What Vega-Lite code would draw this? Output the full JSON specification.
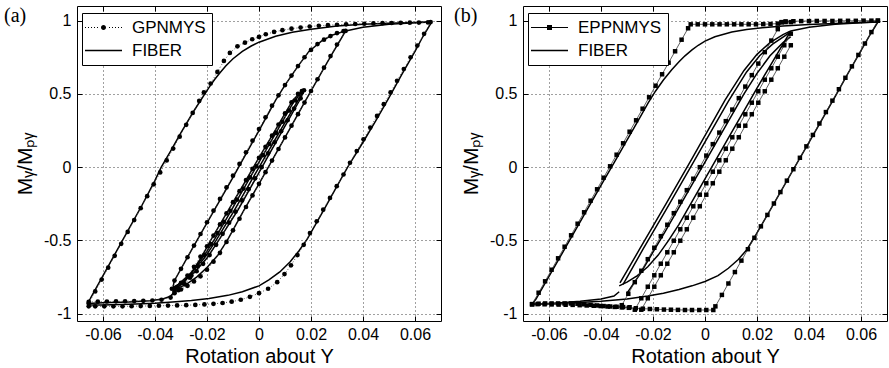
{
  "$schema": "https://vega.github.io/schema/vega-lite/v6.json",
  "padding": {"left": 3, "top": 5, "right": 0, "bottom": 0},
  "bounds": "flush",
  "spacing": 82,
  "resolve": {"scale": {"shape": "independent"}, "legend": {"shape": "independent"}},
  "config": {
    "view": {"stroke": "black", "strokeWidth": 1},
    "font": "Liberation Sans",
    "axis": {
      "labelFont": "Liberation Sans", "labelFontSize": 16, "labelColor": "black",
      "titleFont": "Liberation Sans", "titleFontSize": 20, "titleFontWeight": "normal", "titleColor": "black",
      "domain": false, "gridColor": "black", "gridDash": [1, 3], "gridOpacity": 0.75, "tickColor": "black", "tickWidth": 1
    },
    "legend": {
      "title": null, "orient": "none", "legendX": 5, "legendY": 7,
      "strokeColor": "black", "fillColor": "white", "padding": 6,
      "symbolSize": 100, "labelFont": "Liberation Sans", "labelFontSize": 17, "labelColor": "black", "labelOffset": 27, "rowPadding": 5
    }
  },
  "datasets": {
    "legA": [{"s": "GPNMYS"}, {"s": "FIBER"}],
    "legB": [{"s": "EPPNMYS"}, {"s": "FIBER"}],
    "aF": [
      {"g":1,"x":-0.066,"y":-0.93},{"g":1,"x":-0.065,"y":-0.9},{"g":1,"x":-0.06,"y":-0.74},{"g":1,"x":-0.055,"y":-0.58},{"g":1,"x":-0.05,"y":-0.42},{"g":1,"x":-0.045,"y":-0.26},{"g":1,"x":-0.04,"y":-0.09},{"g":1,"x":-0.0376,"y":0},{"g":1,"x":-0.034,"y":0.11},{"g":1,"x":-0.03,"y":0.235},{"g":1,"x":-0.025,"y":0.385},{"g":1,"x":-0.0212,"y":0.49},{"g":1,"x":-0.019,"y":0.55},{"g":1,"x":-0.017,"y":0.6},{"g":1,"x":-0.015,"y":0.645},{"g":1,"x":-0.0128,"y":0.69},{"g":1,"x":-0.01,"y":0.74},{"g":1,"x":-0.0064,"y":0.79},{"g":1,"x":-0.003,"y":0.827},{"g":1,"x":0,"y":0.853},{"g":1,"x":0.0064,"y":0.893},{"g":1,"x":0.0128,"y":0.921},{"g":1,"x":0.02,"y":0.942},{"g":1,"x":0.03,"y":0.963},{"g":1,"x":0.04,"y":0.975},{"g":1,"x":0.05,"y":0.982},{"g":1,"x":0.0664,"y":0.99},
      {"g":2,"x":0.0664,"y":0.99},{"g":2,"x":0.063,"y":0.89},{"g":2,"x":0.06,"y":0.79},{"g":2,"x":0.055,"y":0.635},{"g":2,"x":0.05,"y":0.475},{"g":2,"x":0.045,"y":0.32},{"g":2,"x":0.04,"y":0.17},{"g":2,"x":0.0341,"y":0},{"g":2,"x":0.03,"y":-0.13},{"g":2,"x":0.025,"y":-0.29},{"g":2,"x":0.0186,"y":-0.49},{"g":2,"x":0.0154,"y":-0.57},{"g":2,"x":0.012,"y":-0.645},{"g":2,"x":0.008,"y":-0.715},{"g":2,"x":0.0038,"y":-0.77},{"g":2,"x":0,"y":-0.81},{"g":2,"x":-0.0064,"y":-0.85},{"g":2,"x":-0.012,"y":-0.875},{"g":2,"x":-0.0192,"y":-0.896},{"g":2,"x":-0.026,"y":-0.91},{"g":2,"x":-0.032,"y":-0.919},{"g":2,"x":-0.04,"y":-0.928},{"g":2,"x":-0.05,"y":-0.935},{"g":2,"x":-0.06,"y":-0.94},{"g":2,"x":-0.066,"y":-0.94},
      {"g":3,"x":-0.066,"y":-0.93},{"g":3,"x":-0.06,"y":-0.925},{"g":3,"x":-0.05,"y":-0.92},{"g":3,"x":-0.042,"y":-0.912},{"g":3,"x":-0.037,"y":-0.9},{"g":3,"x":-0.034,"y":-0.88},{"g":3,"x":-0.033,"y":-0.86},
      {"g":4,"x":-0.033,"y":-0.84},{"g":4,"x":-0.03,"y":-0.8},{"g":4,"x":-0.026,"y":-0.72},{"g":4,"x":-0.022,"y":-0.61},{"g":4,"x":-0.0186,"y":-0.5},{"g":4,"x":-0.012,"y":-0.3},{"g":4,"x":-0.006,"y":-0.12},{"g":4,"x":0,"y":0.065},{"g":4,"x":0.006,"y":0.245},{"g":4,"x":0.013,"y":0.457},{"g":4,"x":0.0155,"y":0.5},{"g":4,"x":0.0173,"y":0.525},
      {"g":5,"x":0.0173,"y":0.525},{"g":5,"x":0.016,"y":0.47},{"g":5,"x":0.01,"y":0.28},{"g":5,"x":0.004,"y":0.09},{"g":5,"x":-0.002,"y":-0.1},{"g":5,"x":-0.008,"y":-0.29},{"g":5,"x":-0.0155,"y":-0.5},{"g":5,"x":-0.02,"y":-0.62},{"g":5,"x":-0.025,"y":-0.72},{"g":5,"x":-0.03,"y":-0.79},{"g":5,"x":-0.033,"y":-0.82},
      {"g":6,"x":-0.033,"y":-0.82},{"g":6,"x":-0.0327,"y":-0.78},{"g":6,"x":-0.025,"y":-0.535},{"g":6,"x":-0.02,"y":-0.38},{"g":6,"x":-0.015,"y":-0.225},{"g":6,"x":-0.01,"y":-0.07},{"g":6,"x":-0.005,"y":0.09},{"g":6,"x":0,"y":0.25},{"g":6,"x":0.0064,"y":0.457},{"g":6,"x":0.01,"y":0.56},{"g":6,"x":0.015,"y":0.69},{"g":6,"x":0.0192,"y":0.79},{"g":6,"x":0.024,"y":0.86},{"g":6,"x":0.028,"y":0.9},{"g":6,"x":0.0333,"y":0.93},
      {"g":7,"x":0.0333,"y":0.93},{"g":7,"x":0.032,"y":0.89},{"g":7,"x":0.028,"y":0.77},{"g":7,"x":0.024,"y":0.645},{"g":7,"x":0.018,"y":0.457},{"g":7,"x":0.012,"y":0.267},{"g":7,"x":0.006,"y":0.077},{"g":7,"x":0,"y":-0.114},{"g":7,"x":-0.006,"y":-0.3},{"g":7,"x":-0.0122,"y":-0.5},{"g":7,"x":-0.016,"y":-0.605},{"g":7,"x":-0.02,"y":-0.685},{"g":7,"x":-0.024,"y":-0.75},{"g":7,"x":-0.028,"y":-0.8},{"g":7,"x":-0.033,"y":-0.84},
      {"g":8,"x":-0.033,"y":-0.84},{"g":8,"x":-0.029,"y":-0.79},{"g":8,"x":-0.025,"y":-0.7},{"g":8,"x":-0.021,"y":-0.6},{"g":8,"x":-0.017,"y":-0.49},{"g":8,"x":-0.011,"y":-0.305},{"g":8,"x":-0.005,"y":-0.12},{"g":8,"x":0.001,"y":0.065},{"g":8,"x":0.007,"y":0.25},{"g":8,"x":0.0135,"y":0.45},{"g":8,"x":0.0173,"y":0.525},
      {"g":9,"x":0.0333,"y":0.93},{"g":9,"x":0.04,"y":0.955},{"g":9,"x":0.05,"y":0.975},{"g":9,"x":0.06,"y":0.985},{"g":9,"x":0.0664,"y":0.99},
      {"g":10,"x":0.0173,"y":0.525},{"g":10,"x":0.0145,"y":0.44},{"g":10,"x":0.008,"y":0.245},{"g":10,"x":0.002,"y":0.06},{"g":10,"x":-0.004,"y":-0.125},{"g":10,"x":-0.01,"y":-0.31},{"g":10,"x":-0.0165,"y":-0.5},{"g":10,"x":-0.021,"y":-0.62},{"g":10,"x":-0.026,"y":-0.72},{"g":10,"x":-0.031,"y":-0.8},{"g":10,"x":-0.033,"y":-0.83}
    ],
    "aG": [
      {"g":1,"x":-0.0655,"y":-0.93},{"g":1,"x":-0.063,"y":-0.848},{"g":1,"x":-0.0605,"y":-0.767},{"g":1,"x":-0.058,"y":-0.686},{"g":1,"x":-0.0555,"y":-0.605},{"g":1,"x":-0.053,"y":-0.523},{"g":1,"x":-0.0505,"y":-0.442},{"g":1,"x":-0.048,"y":-0.361},{"g":1,"x":-0.0455,"y":-0.28},{"g":1,"x":-0.043,"y":-0.198},{"g":1,"x":-0.0405,"y":-0.117},{"g":1,"x":-0.038,"y":-0.036},{"g":1,"x":-0.0355,"y":0.046},{"g":1,"x":-0.033,"y":0.127},{"g":1,"x":-0.0305,"y":0.208},{"g":1,"x":-0.028,"y":0.289},{"g":1,"x":-0.0255,"y":0.37},{"g":1,"x":-0.023,"y":0.452},{"g":1,"x":-0.0212,"y":0.51},{"g":1,"x":-0.0186,"y":0.571},{"g":1,"x":-0.016,"y":0.65},{"g":1,"x":-0.0135,"y":0.725},{"g":1,"x":-0.0112,"y":0.78},{"g":1,"x":-0.0083,"y":0.825},{"g":1,"x":-0.0054,"y":0.85},{"g":1,"x":-0.0026,"y":0.873},{"g":1,"x":0,"y":0.889},{"g":1,"x":0.0026,"y":0.907},{"g":1,"x":0.0058,"y":0.923},{"g":1,"x":0.009,"y":0.935},{"g":1,"x":0.0125,"y":0.945},{"g":1,"x":0.016,"y":0.953},{"g":1,"x":0.0195,"y":0.96},{"g":1,"x":0.023,"y":0.965},{"g":1,"x":0.0265,"y":0.969},{"g":1,"x":0.03,"y":0.972},{"g":1,"x":0.0335,"y":0.975},{"g":1,"x":0.037,"y":0.977},{"g":1,"x":0.0405,"y":0.979},{"g":1,"x":0.044,"y":0.981},{"g":1,"x":0.0475,"y":0.983},{"g":1,"x":0.051,"y":0.984},{"g":1,"x":0.0545,"y":0.985},{"g":1,"x":0.058,"y":0.986},{"g":1,"x":0.0615,"y":0.987},{"g":1,"x":0.065,"y":0.988},
      {"g":2,"x":0.066,"y":0.99},{"g":2,"x":0.0635,"y":0.91},{"g":2,"x":0.0609,"y":0.83},{"g":2,"x":0.0583,"y":0.75},{"g":2,"x":0.0557,"y":0.67},{"g":2,"x":0.0531,"y":0.59},{"g":2,"x":0.0506,"y":0.51},{"g":2,"x":0.048,"y":0.43},{"g":2,"x":0.0454,"y":0.35},{"g":2,"x":0.0428,"y":0.27},{"g":2,"x":0.0402,"y":0.19},{"g":2,"x":0.0376,"y":0.11},{"g":2,"x":0.035,"y":0.03},{"g":2,"x":0.0325,"y":-0.05},{"g":2,"x":0.0299,"y":-0.13},{"g":2,"x":0.0273,"y":-0.21},{"g":2,"x":0.0247,"y":-0.29},{"g":2,"x":0.0222,"y":-0.37},{"g":2,"x":0.0196,"y":-0.45},{"g":2,"x":0.0172,"y":-0.53},{"g":2,"x":0.0148,"y":-0.6},{"g":2,"x":0.0123,"y":-0.67},{"g":2,"x":0.0098,"y":-0.73},{"g":2,"x":0.007,"y":-0.785},{"g":2,"x":0.0035,"y":-0.83},{"g":2,"x":0,"y":-0.86},{"g":2,"x":-0.0035,"y":-0.885},{"g":2,"x":-0.007,"y":-0.905},{"g":2,"x":-0.0105,"y":-0.918},{"g":2,"x":-0.014,"y":-0.927},{"g":2,"x":-0.0175,"y":-0.933},{"g":2,"x":-0.021,"y":-0.937},{"g":2,"x":-0.0245,"y":-0.94},{"g":2,"x":-0.028,"y":-0.942},{"g":2,"x":-0.0315,"y":-0.944},{"g":2,"x":-0.035,"y":-0.945},{"g":2,"x":-0.0385,"y":-0.946},{"g":2,"x":-0.042,"y":-0.947},{"g":2,"x":-0.0455,"y":-0.948},{"g":2,"x":-0.049,"y":-0.949},{"g":2,"x":-0.0525,"y":-0.95},{"g":2,"x":-0.056,"y":-0.95},{"g":2,"x":-0.0595,"y":-0.95},{"g":2,"x":-0.063,"y":-0.95},{"g":2,"x":-0.0655,"y":-0.95},
      {"g":3,"x":-0.0655,"y":-0.92},{"g":3,"x":-0.062,"y":-0.918},{"g":3,"x":-0.0585,"y":-0.917},{"g":3,"x":-0.055,"y":-0.916},{"g":3,"x":-0.0515,"y":-0.915},{"g":3,"x":-0.048,"y":-0.914},{"g":3,"x":-0.0445,"y":-0.912},{"g":3,"x":-0.041,"y":-0.91},{"g":3,"x":-0.0375,"y":-0.905},{"g":3,"x":-0.034,"y":-0.89},{"g":3,"x":-0.0325,"y":-0.86},
      {"g":4,"x":-0.0335,"y":-0.83},{"g":4,"x":-0.0325,"y":-0.774},{"g":4,"x":-0.03,"y":-0.694},{"g":4,"x":-0.0275,"y":-0.615},{"g":4,"x":-0.025,"y":-0.535},{"g":4,"x":-0.0225,"y":-0.456},{"g":4,"x":-0.02,"y":-0.376},{"g":4,"x":-0.0175,"y":-0.297},{"g":4,"x":-0.015,"y":-0.217},{"g":4,"x":-0.0125,"y":-0.138},{"g":4,"x":-0.01,"y":-0.058},{"g":4,"x":-0.0075,"y":0.022},{"g":4,"x":-0.005,"y":0.101},{"g":4,"x":-0.0025,"y":0.181},{"g":4,"x":0,"y":0.26},{"g":4,"x":0.0025,"y":0.34},{"g":4,"x":0.005,"y":0.42},{"g":4,"x":0.0075,"y":0.49},{"g":4,"x":0.01,"y":0.56},{"g":4,"x":0.0125,"y":0.625},{"g":4,"x":0.015,"y":0.69},{"g":4,"x":0.0175,"y":0.75},{"g":4,"x":0.02,"y":0.8},{"g":4,"x":0.0225,"y":0.84},{"g":4,"x":0.025,"y":0.87},{"g":4,"x":0.0275,"y":0.895},{"g":4,"x":0.03,"y":0.915},{"g":4,"x":0.0325,"y":0.928},
      {"g":5,"x":0.0333,"y":0.93},{"g":5,"x":0.03,"y":0.837},{"g":5,"x":0.0275,"y":0.758},{"g":5,"x":0.025,"y":0.679},{"g":5,"x":0.0225,"y":0.6},{"g":5,"x":0.02,"y":0.52},{"g":5,"x":0.0175,"y":0.441},{"g":5,"x":0.015,"y":0.362},{"g":5,"x":0.0125,"y":0.283},{"g":5,"x":0.01,"y":0.203},{"g":5,"x":0.0075,"y":0.124},{"g":5,"x":0.005,"y":0.045},{"g":5,"x":0.0025,"y":-0.034},{"g":5,"x":0,"y":-0.114},{"g":5,"x":-0.0025,"y":-0.193},{"g":5,"x":-0.005,"y":-0.272},{"g":5,"x":-0.0075,"y":-0.352},{"g":5,"x":-0.01,"y":-0.431},{"g":5,"x":-0.0125,"y":-0.51},{"g":5,"x":-0.015,"y":-0.585},{"g":5,"x":-0.0175,"y":-0.645},{"g":5,"x":-0.02,"y":-0.7},{"g":5,"x":-0.0225,"y":-0.745},{"g":5,"x":-0.025,"y":-0.78},{"g":5,"x":-0.0275,"y":-0.81},{"g":5,"x":-0.03,"y":-0.835},{"g":5,"x":-0.0325,"y":-0.85},
      {"g":6,"x":-0.0325,"y":-0.83},{"g":6,"x":-0.03,"y":-0.79},{"g":6,"x":-0.0275,"y":-0.74},{"g":6,"x":-0.025,"y":-0.68},{"g":6,"x":-0.0225,"y":-0.61},{"g":6,"x":-0.02,"y":-0.54},{"g":6,"x":-0.0175,"y":-0.467},{"g":6,"x":-0.015,"y":-0.391},{"g":6,"x":-0.0125,"y":-0.315},{"g":6,"x":-0.01,"y":-0.239},{"g":6,"x":-0.0075,"y":-0.164},{"g":6,"x":-0.005,"y":-0.088},{"g":6,"x":-0.0025,"y":-0.012},{"g":6,"x":0,"y":0.064},{"g":6,"x":0.0025,"y":0.139},{"g":6,"x":0.005,"y":0.215},{"g":6,"x":0.0075,"y":0.291},{"g":6,"x":0.01,"y":0.367},{"g":6,"x":0.0125,"y":0.443},{"g":6,"x":0.015,"y":0.5},{"g":6,"x":0.0165,"y":0.52},
      {"g":7,"x":0.0173,"y":0.525},{"g":7,"x":0.016,"y":0.47},{"g":7,"x":0.0135,"y":0.4},{"g":7,"x":0.011,"y":0.32},{"g":7,"x":0.0085,"y":0.245},{"g":7,"x":0.006,"y":0.17},{"g":7,"x":0.0035,"y":0.094},{"g":7,"x":0.001,"y":0},{"g":7,"x":-0.0015,"y":-0.076},{"g":7,"x":-0.004,"y":-0.15},{"g":7,"x":-0.0065,"y":-0.227},{"g":7,"x":-0.009,"y":-0.303},{"g":7,"x":-0.0115,"y":-0.379},{"g":7,"x":-0.014,"y":-0.455},{"g":7,"x":-0.0165,"y":-0.53},{"g":7,"x":-0.019,"y":-0.6},{"g":7,"x":-0.0215,"y":-0.66},{"g":7,"x":-0.024,"y":-0.71},{"g":7,"x":-0.0265,"y":-0.755},{"g":7,"x":-0.029,"y":-0.79},{"g":7,"x":-0.0315,"y":-0.82},
      {"g":8,"x":-0.031,"y":-0.84},{"g":8,"x":-0.0285,"y":-0.8},{"g":8,"x":-0.026,"y":-0.74},{"g":8,"x":-0.0235,"y":-0.675},{"g":8,"x":-0.021,"y":-0.6},{"g":8,"x":-0.0185,"y":-0.525},{"g":8,"x":-0.016,"y":-0.45},{"g":8,"x":-0.0135,"y":-0.374},{"g":8,"x":-0.011,"y":-0.298},{"g":8,"x":-0.0085,"y":-0.222},{"g":8,"x":-0.006,"y":-0.146},{"g":8,"x":-0.0035,"y":-0.07},{"g":8,"x":-0.001,"y":0.006},{"g":8,"x":0.0015,"y":0.082},{"g":8,"x":0.004,"y":0.158},{"g":8,"x":0.0065,"y":0.234},{"g":8,"x":0.009,"y":0.31},{"g":8,"x":0.0115,"y":0.386},{"g":8,"x":0.014,"y":0.455},{"g":8,"x":0.0165,"y":0.51}
    ],
    "bF": [
      {"g":1,"x":-0.0665,"y":-0.935},{"g":1,"x":-0.065,"y":-0.9},{"g":1,"x":-0.06,"y":-0.745},{"g":1,"x":-0.055,"y":-0.59},{"g":1,"x":-0.05,"y":-0.435},{"g":1,"x":-0.045,"y":-0.28},{"g":1,"x":-0.04,"y":-0.125},{"g":1,"x":-0.035,"y":0.03},{"g":1,"x":-0.03,"y":0.185},{"g":1,"x":-0.025,"y":0.34},{"g":1,"x":-0.0218,"y":0.44},{"g":1,"x":-0.019,"y":0.52},{"g":1,"x":-0.016,"y":0.595},{"g":1,"x":-0.0128,"y":0.665},{"g":1,"x":-0.01,"y":0.72},{"g":1,"x":-0.0077,"y":0.76},{"g":1,"x":-0.005,"y":0.8},{"g":1,"x":-0.0026,"y":0.832},{"g":1,"x":0,"y":0.86},{"g":1,"x":0.0038,"y":0.89},{"g":1,"x":0.0103,"y":0.922},{"g":1,"x":0.016,"y":0.94},{"g":1,"x":0.022,"y":0.952},{"g":1,"x":0.03,"y":0.963},{"g":1,"x":0.04,"y":0.973},{"g":1,"x":0.05,"y":0.98},{"g":1,"x":0.06,"y":0.987},{"g":1,"x":0.0665,"y":0.99},
      {"g":2,"x":0.0665,"y":0.99},{"g":2,"x":0.063,"y":0.89},{"g":2,"x":0.06,"y":0.795},{"g":2,"x":0.055,"y":0.64},{"g":2,"x":0.05,"y":0.48},{"g":2,"x":0.045,"y":0.325},{"g":2,"x":0.04,"y":0.17},{"g":2,"x":0.035,"y":0.015},{"g":2,"x":0.03,"y":-0.14},{"g":2,"x":0.025,"y":-0.295},{"g":2,"x":0.019,"y":-0.48},{"g":2,"x":0.016,"y":-0.565},{"g":2,"x":0.0128,"y":-0.63},{"g":2,"x":0.009,"y":-0.69},{"g":2,"x":0.005,"y":-0.74},{"g":2,"x":0,"y":-0.78},{"g":2,"x":-0.005,"y":-0.81},{"g":2,"x":-0.01,"y":-0.835},{"g":2,"x":-0.016,"y":-0.86},{"g":2,"x":-0.022,"y":-0.88},{"g":2,"x":-0.03,"y":-0.9},{"g":2,"x":-0.04,"y":-0.915},{"g":2,"x":-0.05,"y":-0.925},{"g":2,"x":-0.06,"y":-0.932},{"g":2,"x":-0.0665,"y":-0.935},
      {"g":3,"x":-0.0327,"y":-0.79},{"g":3,"x":-0.025,"y":-0.555},{"g":3,"x":-0.015,"y":-0.25},{"g":3,"x":-0.005,"y":0.058},{"g":3,"x":0.0077,"y":0.457},{"g":3,"x":0.015,"y":0.66},{"g":3,"x":0.02,"y":0.77},{"g":3,"x":0.025,"y":0.85},{"g":3,"x":0.03,"y":0.905},{"g":3,"x":0.033,"y":0.93},
      {"g":4,"x":-0.0315,"y":-0.8},{"g":4,"x":-0.024,"y":-0.565},{"g":4,"x":-0.014,"y":-0.26},{"g":4,"x":-0.004,"y":0.048},{"g":4,"x":0.0089,"y":0.447},{"g":4,"x":0.016,"y":0.65},{"g":4,"x":0.021,"y":0.76},{"g":4,"x":0.026,"y":0.84},{"g":4,"x":0.031,"y":0.9},{"g":4,"x":0.033,"y":0.925},
      {"g":5,"x":0.033,"y":0.93},{"g":5,"x":0.03,"y":0.84},{"g":5,"x":0.025,"y":0.69},{"g":5,"x":0.02,"y":0.54},{"g":5,"x":0.015,"y":0.385},{"g":5,"x":0.01,"y":0.23},{"g":5,"x":0.005,"y":0.075},{"g":5,"x":0,"y":-0.08},{"g":5,"x":-0.005,"y":-0.235},{"g":5,"x":-0.01,"y":-0.39},{"g":5,"x":-0.014,"y":-0.5},{"g":5,"x":-0.018,"y":-0.6},{"g":5,"x":-0.022,"y":-0.68},{"g":5,"x":-0.026,"y":-0.74},{"g":5,"x":-0.03,"y":-0.785},{"g":5,"x":-0.033,"y":-0.81},
      {"g":6,"x":-0.0665,"y":-0.935},{"g":6,"x":-0.058,"y":-0.928},{"g":6,"x":-0.048,"y":-0.915},{"g":6,"x":-0.04,"y":-0.9},{"g":6,"x":-0.035,"y":-0.88},{"g":6,"x":-0.033,"y":-0.85},
      {"g":7,"x":0.033,"y":0.93},{"g":7,"x":0.04,"y":0.955},{"g":7,"x":0.05,"y":0.975},{"g":7,"x":0.06,"y":0.985},{"g":7,"x":0.0665,"y":0.99},
      {"g":8,"x":-0.03,"y":-0.86},{"g":8,"x":-0.025,"y":-0.73},{"g":8,"x":-0.02,"y":-0.58},{"g":8,"x":-0.015,"y":-0.43},{"g":8,"x":-0.01,"y":-0.275},{"g":8,"x":-0.005,"y":-0.12},{"g":8,"x":0,"y":0.035},{"g":8,"x":0.005,"y":0.19},{"g":8,"x":0.01,"y":0.345},{"g":8,"x":0.015,"y":0.5},{"g":8,"x":0.02,"y":0.64},{"g":8,"x":0.025,"y":0.76},{"g":8,"x":0.03,"y":0.85},{"g":8,"x":0.033,"y":0.89}
    ],
    "bE": [
      {"g":1,"x":-0.0665,"y":-0.936},{"g":1,"x":-0.064,"y":-0.857},{"g":1,"x":-0.0615,"y":-0.779},{"g":1,"x":-0.059,"y":-0.7},{"g":1,"x":-0.0565,"y":-0.622},{"g":1,"x":-0.054,"y":-0.543},{"g":1,"x":-0.0515,"y":-0.465},{"g":1,"x":-0.049,"y":-0.386},{"g":1,"x":-0.0465,"y":-0.308},{"g":1,"x":-0.044,"y":-0.229},{"g":1,"x":-0.0415,"y":-0.151},{"g":1,"x":-0.039,"y":-0.072},{"g":1,"x":-0.0365,"y":0.006},{"g":1,"x":-0.034,"y":0.085},{"g":1,"x":-0.0315,"y":0.163},{"g":1,"x":-0.029,"y":0.242},{"g":1,"x":-0.0265,"y":0.32},{"g":1,"x":-0.024,"y":0.399},{"g":1,"x":-0.0215,"y":0.477},{"g":1,"x":-0.019,"y":0.556},{"g":1,"x":-0.0165,"y":0.634},{"g":1,"x":-0.014,"y":0.713},{"g":1,"x":-0.0115,"y":0.791},{"g":1,"x":-0.009,"y":0.87},{"g":1,"x":-0.0065,"y":0.948},{"g":1,"x":-0.0055,"y":0.975},{"g":1,"x":-0.0028,"y":0.975},{"g":1,"x":0,"y":0.975},{"g":1,"x":0.0028,"y":0.975},{"g":1,"x":0.0056,"y":0.975},{"g":1,"x":0.0084,"y":0.975},{"g":1,"x":0.0112,"y":0.975},{"g":1,"x":0.014,"y":0.975},{"g":1,"x":0.0168,"y":0.975},{"g":1,"x":0.0196,"y":0.975},{"g":1,"x":0.0224,"y":0.976},{"g":1,"x":0.0252,"y":0.977},{"g":1,"x":0.028,"y":0.98},{"g":1,"x":0.0295,"y":0.99},{"g":1,"x":0.031,"y":0.995},{"g":1,"x":0.034,"y":0.996},{"g":1,"x":0.037,"y":0.997},{"g":1,"x":0.04,"y":0.997},{"g":1,"x":0.043,"y":0.998},{"g":1,"x":0.046,"y":0.998},{"g":1,"x":0.049,"y":0.998},{"g":1,"x":0.052,"y":0.999},{"g":1,"x":0.055,"y":0.999},{"g":1,"x":0.058,"y":0.999},{"g":1,"x":0.061,"y":1},{"g":1,"x":0.064,"y":1},{"g":1,"x":0.0665,"y":1},
      {"g":2,"x":0.0665,"y":1},{"g":2,"x":0.064,"y":0.922},{"g":2,"x":0.0615,"y":0.844},{"g":2,"x":0.059,"y":0.766},{"g":2,"x":0.0565,"y":0.688},{"g":2,"x":0.054,"y":0.61},{"g":2,"x":0.0515,"y":0.532},{"g":2,"x":0.049,"y":0.454},{"g":2,"x":0.0465,"y":0.376},{"g":2,"x":0.044,"y":0.298},{"g":2,"x":0.0415,"y":0.22},{"g":2,"x":0.039,"y":0.142},{"g":2,"x":0.0365,"y":0.064},{"g":2,"x":0.034,"y":-0.014},{"g":2,"x":0.0315,"y":-0.092},{"g":2,"x":0.029,"y":-0.17},{"g":2,"x":0.0265,"y":-0.248},{"g":2,"x":0.024,"y":-0.326},{"g":2,"x":0.0215,"y":-0.404},{"g":2,"x":0.019,"y":-0.482},{"g":2,"x":0.0165,"y":-0.56},{"g":2,"x":0.014,"y":-0.638},{"g":2,"x":0.0115,"y":-0.716},{"g":2,"x":0.009,"y":-0.794},{"g":2,"x":0.0065,"y":-0.872},{"g":2,"x":0.004,"y":-0.95},{"g":2,"x":0.0032,"y":-0.975},{"g":2,"x":0.0005,"y":-0.975},{"g":2,"x":-0.0022,"y":-0.975},{"g":2,"x":-0.005,"y":-0.975},{"g":2,"x":-0.0077,"y":-0.975},{"g":2,"x":-0.0104,"y":-0.974},{"g":2,"x":-0.0131,"y":-0.973},{"g":2,"x":-0.0158,"y":-0.972},{"g":2,"x":-0.0185,"y":-0.97},{"g":2,"x":-0.0212,"y":-0.968},{"g":2,"x":-0.0239,"y":-0.966},{"g":2,"x":-0.0266,"y":-0.963},{"g":2,"x":-0.0293,"y":-0.96},{"g":2,"x":-0.032,"y":-0.957},{"g":2,"x":-0.0347,"y":-0.954},{"g":2,"x":-0.0374,"y":-0.951},{"g":2,"x":-0.0401,"y":-0.948},{"g":2,"x":-0.0428,"y":-0.946},{"g":2,"x":-0.0455,"y":-0.944},{"g":2,"x":-0.0482,"y":-0.942},{"g":2,"x":-0.0509,"y":-0.94},{"g":2,"x":-0.0536,"y":-0.939},{"g":2,"x":-0.0563,"y":-0.938},{"g":2,"x":-0.059,"y":-0.937},{"g":2,"x":-0.0617,"y":-0.936},{"g":2,"x":-0.0644,"y":-0.935},{"g":2,"x":-0.0665,"y":-0.935},
      {"g":3,"x":-0.0665,"y":-0.935},{"g":3,"x":-0.064,"y":-0.932},{"g":3,"x":-0.0615,"y":-0.93},{"g":3,"x":-0.059,"y":-0.93},{"g":3,"x":-0.0565,"y":-0.93},{"g":3,"x":-0.054,"y":-0.93},{"g":3,"x":-0.0515,"y":-0.93},{"g":3,"x":-0.049,"y":-0.932},{"g":3,"x":-0.0465,"y":-0.936},{"g":3,"x":-0.044,"y":-0.94},{"g":3,"x":-0.0415,"y":-0.944},{"g":3,"x":-0.039,"y":-0.948},{"g":3,"x":-0.0365,"y":-0.951},{"g":3,"x":-0.034,"y":-0.953},{"g":3,"x":-0.0315,"y":-0.955},{"g":3,"x":-0.029,"y":-0.956},
      {"g":4,"x":-0.032,"y":-0.942},{"g":4,"x":-0.0295,"y":-0.864},{"g":4,"x":-0.027,"y":-0.785},{"g":4,"x":-0.0245,"y":-0.707},{"g":4,"x":-0.022,"y":-0.628},{"g":4,"x":-0.0195,"y":-0.55},{"g":4,"x":-0.017,"y":-0.471},{"g":4,"x":-0.0145,"y":-0.393},{"g":4,"x":-0.012,"y":-0.314},{"g":4,"x":-0.0095,"y":-0.236},{"g":4,"x":-0.007,"y":-0.157},{"g":4,"x":-0.0045,"y":-0.079},{"g":4,"x":-0.002,"y":0},{"g":4,"x":0.0005,"y":0.079},{"g":4,"x":0.003,"y":0.157},{"g":4,"x":0.0055,"y":0.236},{"g":4,"x":0.008,"y":0.314},{"g":4,"x":0.0105,"y":0.393},{"g":4,"x":0.013,"y":0.471},{"g":4,"x":0.0155,"y":0.55},{"g":4,"x":0.018,"y":0.628},{"g":4,"x":0.0205,"y":0.707},{"g":4,"x":0.023,"y":0.785},{"g":4,"x":0.0255,"y":0.864},{"g":4,"x":0.028,"y":0.942},{"g":4,"x":0.0295,"y":0.989},{"g":4,"x":0.031,"y":0.99},{"g":4,"x":0.033,"y":0.99},
      {"g":5,"x":0.033,"y":0.911},{"g":5,"x":0.0305,"y":0.832},{"g":5,"x":0.028,"y":0.754},{"g":5,"x":0.0255,"y":0.675},{"g":5,"x":0.023,"y":0.597},{"g":5,"x":0.0205,"y":0.518},{"g":5,"x":0.018,"y":0.44},{"g":5,"x":0.0155,"y":0.361},{"g":5,"x":0.013,"y":0.283},{"g":5,"x":0.0105,"y":0.204},{"g":5,"x":0.008,"y":0.126},{"g":5,"x":0.0055,"y":0.047},{"g":5,"x":0.003,"y":-0.031},{"g":5,"x":0.0005,"y":-0.11},{"g":5,"x":-0.002,"y":-0.188},{"g":5,"x":-0.0045,"y":-0.267},{"g":5,"x":-0.007,"y":-0.345},{"g":5,"x":-0.0095,"y":-0.424},{"g":5,"x":-0.012,"y":-0.502},{"g":5,"x":-0.0145,"y":-0.581},{"g":5,"x":-0.017,"y":-0.659},{"g":5,"x":-0.0195,"y":-0.738},{"g":5,"x":-0.022,"y":-0.816},{"g":5,"x":-0.0245,"y":-0.895},{"g":5,"x":-0.027,"y":-0.973},
      {"g":6,"x":-0.0245,"y":-0.973},{"g":6,"x":-0.022,"y":-0.895},{"g":6,"x":-0.0195,"y":-0.816},{"g":6,"x":-0.017,"y":-0.738},{"g":6,"x":-0.0145,"y":-0.659},{"g":6,"x":-0.012,"y":-0.581},{"g":6,"x":-0.0095,"y":-0.502},{"g":6,"x":-0.007,"y":-0.424},{"g":6,"x":-0.0045,"y":-0.345},{"g":6,"x":-0.002,"y":-0.267},{"g":6,"x":0.0005,"y":-0.188},{"g":6,"x":0.003,"y":-0.11},{"g":6,"x":0.0055,"y":-0.031},{"g":6,"x":0.008,"y":0.047},{"g":6,"x":0.0105,"y":0.126},{"g":6,"x":0.013,"y":0.204},{"g":6,"x":0.0155,"y":0.283},{"g":6,"x":0.018,"y":0.361},{"g":6,"x":0.0205,"y":0.44},{"g":6,"x":0.023,"y":0.518},{"g":6,"x":0.0255,"y":0.597},{"g":6,"x":0.028,"y":0.675},{"g":6,"x":0.0305,"y":0.754},{"g":6,"x":0.033,"y":0.832}
    ]
  },
  "hconcat": [
    {
      "width": 364, "height": 315,
      "title": {"text": "(a)", "anchor": "start", "frame": "group", "orient": "top", "font": "Liberation Serif", "fontSize": 20, "fontWeight": "normal", "color": "black", "baseline": "top", "offset": 0, "dx": -73, "dy": 20},
      "resolve": {"axis": {"x": "independent", "y": "independent"}},
      "layer": [
        {
          "data": {"name": "aF"},
          "mark": {"type": "line", "color": "black", "strokeWidth": 1.5},
          "encoding": {
            "x": {"field": "x", "type": "quantitative", "scale": {"domain": [-0.07, 0.07], "nice": false, "zero": false},
                  "axis": {"orient": "bottom", "values": [-0.06, -0.04, -0.02, 0, 0.02, 0.04, 0.06], "labelExpr": "'' + datum.value", "title": "Rotation about Y", "grid": true, "ticks": false, "labelPadding": 5, "titlePadding": 4}},
            "y": {"field": "y", "type": "quantitative", "scale": {"domain": [-1.05, 1.1], "nice": false, "zero": false},
                  "axis": {"orient": "left", "values": [-1, -0.5, 0, 0.5, 1], "labelExpr": "'' + datum.value", "title": "Mᵧ/Mₚᵧ", "titleFontSize": 21, "grid": true, "ticks": false, "labelPadding": 6, "titlePadding": 8}},
            "detail": {"field": "g", "type": "nominal"},
            "order": {"value": null}
          }
        },
        {
          "data": {"name": "aG"},
          "mark": {"type": "line", "color": "#444", "strokeWidth": 0.9, "strokeDash": [1, 2]},
          "encoding": {
            "x": {"field": "x", "type": "quantitative", "scale": {"domain": [-0.07, 0.07], "nice": false, "zero": false},
                  "axis": {"orient": "bottom", "values": [-0.06, -0.04, -0.02, 0, 0.02, 0.04, 0.06], "labels": false, "grid": false, "ticks": true, "tickSize": 5, "offset": -5, "title": null}},
            "y": {"field": "y", "type": "quantitative", "scale": {"domain": [-1.05, 1.1], "nice": false, "zero": false},
                  "axis": {"orient": "left", "values": [-1, -0.5, 0, 0.5, 1], "labels": false, "grid": false, "ticks": true, "tickSize": 5, "offset": -5, "title": null}},
            "detail": {"field": "g", "type": "nominal"},
            "order": {"value": null}
          }
        },
        {
          "data": {"name": "aG"},
          "mark": {"type": "point", "shape": "circle", "filled": true, "color": "black", "size": 22, "opacity": 1},
          "encoding": {
            "x": {"field": "x", "type": "quantitative", "scale": {"domain": [-0.07, 0.07], "nice": false, "zero": false},
                  "axis": {"orient": "top", "values": [-0.06, -0.04, -0.02, 0, 0.02, 0.04, 0.06], "labels": false, "grid": false, "ticks": true, "tickSize": 5, "offset": -5, "title": null}},
            "y": {"field": "y", "type": "quantitative", "scale": {"domain": [-1.05, 1.1], "nice": false, "zero": false},
                  "axis": {"orient": "right", "values": [-1, -0.5, 0, 0.5, 1], "labels": false, "grid": false, "ticks": true, "tickSize": 5, "offset": -5, "title": null}}
          }
        },
        {
          "data": {"name": "legA"},
          "transform": [{"filter": "false"}],
          "mark": {"type": "point", "filled": true, "color": "black", "opacity": 1},
          "encoding": {
            "shape": {"field": "s", "type": "nominal",
                      "scale": {"domain": ["GPNMYS", "FIBER"], "range": ["M-2.3,-0.1h0.2v0.2h-0.2ZM-1.7,-0.1h0.2v0.2h-0.2ZM-1.1,-0.1h0.2v0.2h-0.2ZM-0.5,-0.1h0.2v0.2h-0.2ZM0.1,-0.1h0.2v0.2h-0.2ZM2.5,-0.1h0.2v0.2h-0.2ZM3.1,-0.1h0.2v0.2h-0.2ZM3.7,-0.1h0.2v0.2h-0.2ZM4.3,-0.1h0.2v0.2h-0.2ZM4.9,-0.1h0.2v0.2h-0.2ZM0.9,0a0.5,0.5 0 1,0 1,0a0.5,0.5 0 1,0 -1,0Z", "M-2.3,-0.15h7.4v0.3h-7.4Z"]},
                      "legend": {"title": null, "encode": {"symbols": {"update": {"fill": {"value": "black"}, "stroke": {"value": "black"}, "strokeWidth": {"value": 0}, "opacity": {"value": 1}}}}}}
          }
        }
      ]
    },
    {
      "width": 364, "height": 315,
      "title": {"text": "(b)", "anchor": "start", "frame": "group", "orient": "top", "font": "Liberation Serif", "fontSize": 20, "fontWeight": "normal", "color": "black", "baseline": "top", "offset": 0, "dx": -69, "dy": 20},
      "resolve": {"axis": {"x": "independent", "y": "independent"}},
      "layer": [
        {
          "data": {"name": "bF"},
          "mark": {"type": "line", "color": "black", "strokeWidth": 1.5},
          "encoding": {
            "x": {"field": "x", "type": "quantitative", "scale": {"domain": [-0.07, 0.07], "nice": false, "zero": false},
                  "axis": {"orient": "bottom", "values": [-0.06, -0.04, -0.02, 0, 0.02, 0.04, 0.06], "labelExpr": "'' + datum.value", "title": "Rotation about Y", "grid": true, "ticks": false, "labelPadding": 5, "titlePadding": 4}},
            "y": {"field": "y", "type": "quantitative", "scale": {"domain": [-1.05, 1.1], "nice": false, "zero": false},
                  "axis": {"orient": "left", "values": [-1, -0.5, 0, 0.5, 1], "labelExpr": "'' + datum.value", "title": "Mᵧ/Mₚᵧ", "titleFontSize": 21, "grid": true, "ticks": false, "labelPadding": 6, "titlePadding": 8}},
            "detail": {"field": "g", "type": "nominal"},
            "order": {"value": null}
          }
        },
        {
          "data": {"name": "bE"},
          "mark": {"type": "line", "color": "#333", "strokeWidth": 0.8},
          "encoding": {
            "x": {"field": "x", "type": "quantitative", "scale": {"domain": [-0.07, 0.07], "nice": false, "zero": false},
                  "axis": {"orient": "bottom", "values": [-0.06, -0.04, -0.02, 0, 0.02, 0.04, 0.06], "labels": false, "grid": false, "ticks": true, "tickSize": 5, "offset": -5, "title": null}},
            "y": {"field": "y", "type": "quantitative", "scale": {"domain": [-1.05, 1.1], "nice": false, "zero": false},
                  "axis": {"orient": "left", "values": [-1, -0.5, 0, 0.5, 1], "labels": false, "grid": false, "ticks": true, "tickSize": 5, "offset": -5, "title": null}},
            "detail": {"field": "g", "type": "nominal"},
            "order": {"value": null}
          }
        },
        {
          "data": {"name": "bE"},
          "mark": {"type": "point", "shape": "square", "filled": true, "color": "black", "size": 20, "opacity": 1},
          "encoding": {
            "x": {"field": "x", "type": "quantitative", "scale": {"domain": [-0.07, 0.07], "nice": false, "zero": false},
                  "axis": {"orient": "top", "values": [-0.06, -0.04, -0.02, 0, 0.02, 0.04, 0.06], "labels": false, "grid": false, "ticks": true, "tickSize": 5, "offset": -5, "title": null}},
            "y": {"field": "y", "type": "quantitative", "scale": {"domain": [-1.05, 1.1], "nice": false, "zero": false},
                  "axis": {"orient": "right", "values": [-1, -0.5, 0, 0.5, 1], "labels": false, "grid": false, "ticks": true, "tickSize": 5, "offset": -5, "title": null}}
          }
        },
        {
          "data": {"name": "legB"},
          "transform": [{"filter": "false"}],
          "mark": {"type": "point", "filled": true, "color": "black", "opacity": 1},
          "encoding": {
            "shape": {"field": "s", "type": "nominal",
                      "scale": {"domain": ["EPPNMYS", "FIBER"], "range": ["M-2.3,-0.1h7.4v0.2h-7.4ZM0.9,-0.5h1v1h-1Z", "M-2.3,-0.15h7.4v0.3h-7.4Z"]},
                      "legend": {"title": null, "encode": {"symbols": {"update": {"fill": {"value": "black"}, "stroke": {"value": "black"}, "strokeWidth": {"value": 0}, "opacity": {"value": 1}}}}}}
          }
        }
      ]
    }
  ]
}
